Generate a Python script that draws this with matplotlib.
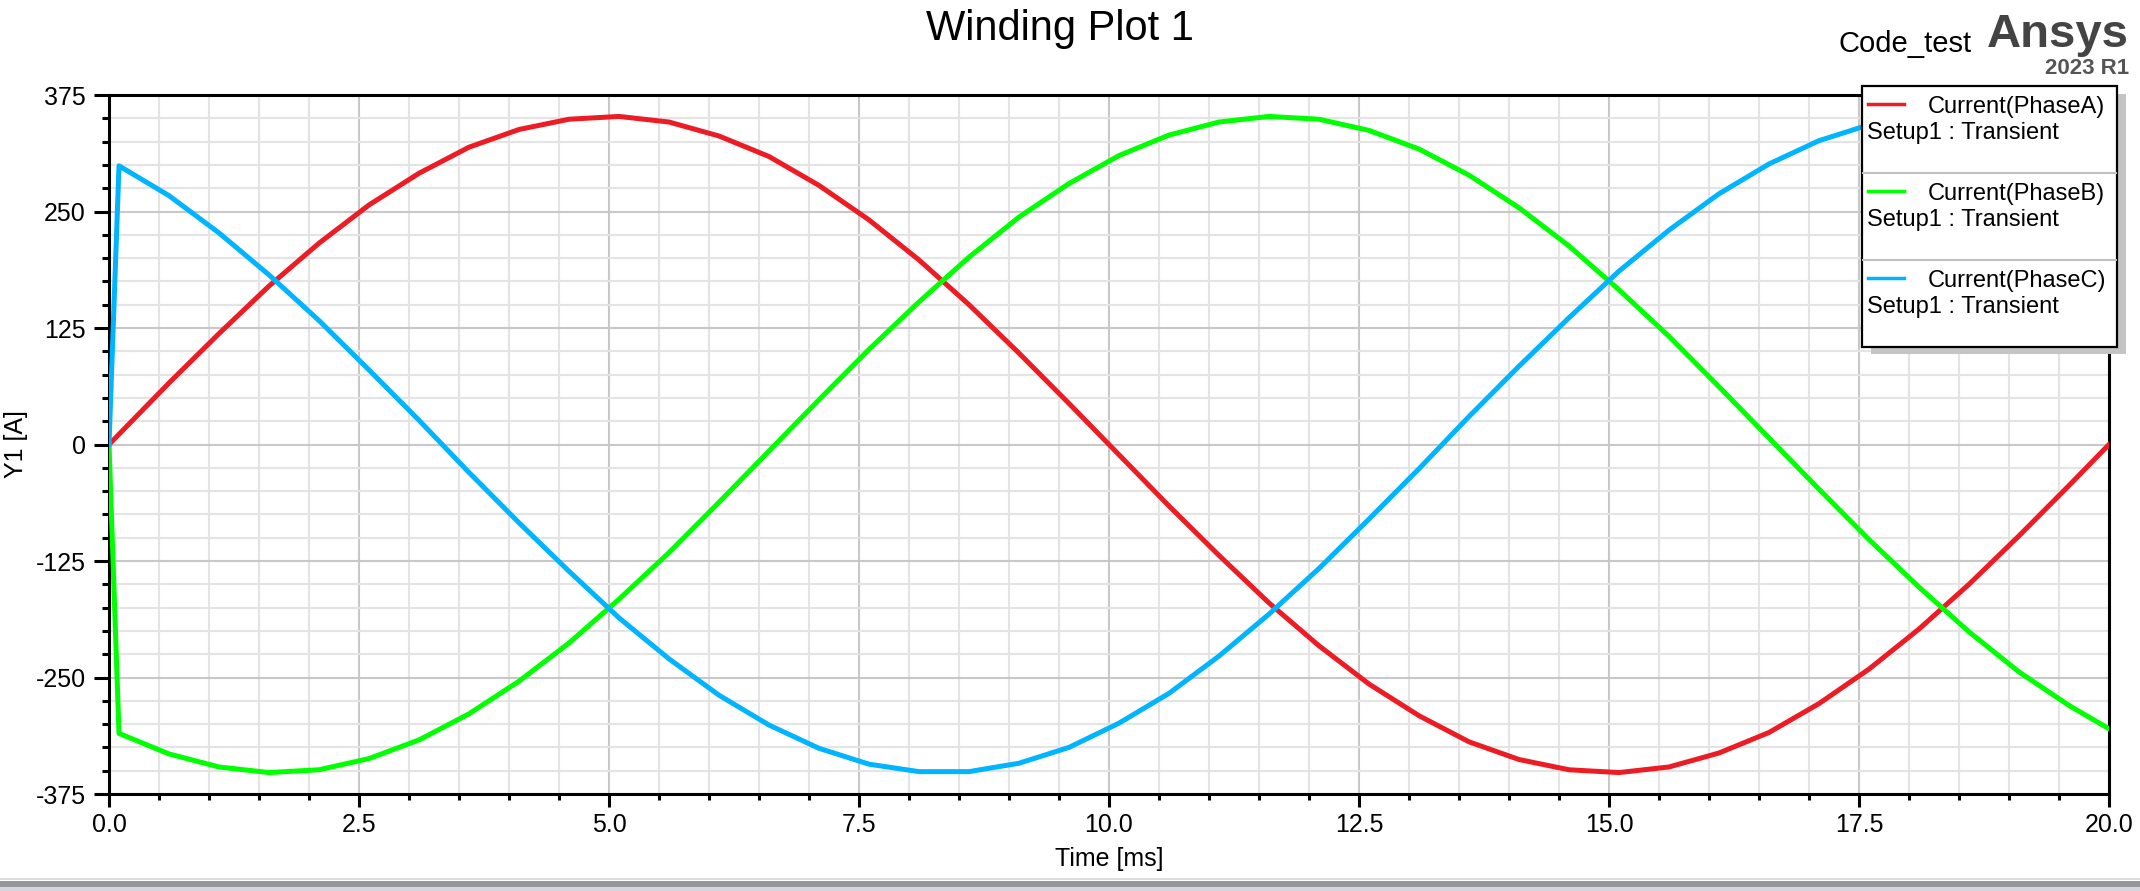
import matplotlib
matplotlib.use("Agg")
import matplotlib.pyplot as plt
from matplotlib.patches import Rectangle
from matplotlib.lines import Line2D
from matplotlib.ticker import MultipleLocator, FuncFormatter

plt.rcParams['font.family'] = ['Liberation Sans', 'DejaVu Sans']
plt.rcParams['axes.unicode_minus'] = False

# ---------------- data ----------------
time_ms = [0.0, 0.1, 0.6, 1.1, 1.6, 2.1, 2.6, 3.1, 3.6, 4.1, 4.6, 5.1, 5.6, 6.1,
           6.6, 7.1, 7.6, 8.1, 8.6, 9.1, 9.6, 10.1, 10.6, 11.1, 11.6, 12.1,
           12.6, 13.1, 13.6, 14.1, 14.6, 15.1, 15.6, 16.1, 16.6, 17.1, 17.6,
           18.1, 18.6, 19.1, 19.6, 20.0]
phase_a = [0, 11, 66, 119, 170, 216, 257, 291, 319, 338, 349, 352, 346, 331,
           309, 278, 241, 198, 150, 98, 44, -11, -66, -119, -170, -216, -257,
           -291, -319, -338, -349, -352, -346, -331, -309, -278, -241, -198,
           -150, -98, -44, 0]
phase_b = [0, -310, -332, -346, -352, -349, -337, -317, -289, -254, -213, -166,
           -116, -62, -7, 48, 102, 153, 201, 244, 280, 310, 332, 346, 352, 349,
           337, 317, 289, 254, 213, 166, 116, 62, 7, -48, -102, -153, -201,
           -244, -280, -305]
phase_c = [0, 299, 267, 227, 182, 133, 80, 26, -30, -84, -136, -186, -230,
           -269, -301, -326, -343, -351, -351, -342, -325, -299, -267, -227,
           -182, -133, -80, -26, 30, 84, 136, 186, 230, 269, 301, 326, 343,
           351, 351, 342, 325, 305]
series_names = ["Current(PhaseA)", "Current(PhaseB)", "Current(PhaseC)"]
setup_label = "Setup1 : Transient"
series_colors = ["#ED1C24", "#00FF00", "#00B4FF"]

# ---------------- figure ----------------
W, H = 2140, 891
fig = plt.figure(figsize=(W / 100, H / 100), dpi=100)


def fx(x):
    return x / W


def fy(y):
    return 1 - y / H


def rect(x0, y0, x1, y1, **kw):
    r = Rectangle((fx(x0), fy(y1)), (x1 - x0) / W, (y1 - y0) / H,
                  transform=fig.transFigure, **kw)
    fig.add_artist(r)
    return r


ax = fig.add_axes([fx(109), fy(794), (2109 - 109) / W, (794 - 95) / H])

for vals, col in zip([phase_a, phase_b, phase_c], series_colors):
    ax.plot(time_ms, vals, color=col, lw=3.6, solid_joinstyle='round',
            zorder=3)

ax.set_xlim(0, 20)
ax.set_ylim(-375, 375)
ax.xaxis.set_major_locator(MultipleLocator(2.5))
ax.xaxis.set_minor_locator(MultipleLocator(0.5))
ax.yaxis.set_major_locator(MultipleLocator(125))
ax.yaxis.set_minor_locator(MultipleLocator(25))
ax.xaxis.set_major_formatter(FuncFormatter(lambda v, p: f"{v:.1f}"))
ax.yaxis.set_major_formatter(FuncFormatter(lambda v, p: f"{int(round(v))}"))

ax.grid(which='major', color='#c8c8c8', lw=1.5)
ax.grid(which='minor', color='#e4e4e4', lw=1.5)
ax.set_axisbelow(True)

for s in ax.spines.values():
    s.set_linewidth(2.2)
    s.set_color('black')

ax.tick_params(axis='y', which='major', direction='out', length=10.8,
               width=2.2, labelsize=18, pad=6, right=False)
ax.tick_params(axis='y', which='minor', direction='out', length=5,
               width=2.2, right=False)
ax.tick_params(axis='x', which='major', direction='out', length=9.4,
               width=2.2, labelsize=18, pad=4, top=False)
ax.tick_params(axis='x', which='minor', direction='out', length=4.3,
               width=2.2, top=False)

# axis labels
fig.text(fx(1109), fy(866), "Time [ms]", fontsize=18, ha='center',
         va='baseline')
fig.text(fx(16), fy(444), "Y1 [A]", fontsize=18, ha='center', va='center',
         rotation=90)

# title and branding
fig.text(fx(1060), fy(40), "Winding Plot 1", fontsize=30, ha='center',
         va='baseline')
fig.text(fx(1972), fy(52), "Code_test", fontsize=21, ha='right',
         va='baseline')
fig.text(fx(2129), fy(47), "Ansys", fontsize=34, fontweight='bold',
         color='#444444', ha='right', va='baseline')
fig.text(fx(2129), fy(74), "2023 R1", fontsize=16, fontweight='bold',
         color='#555555', ha='right', va='baseline')

# legend box
rect(1871, 94, 2126, 354, facecolor='#c4c4c4', edgecolor='none', zorder=5)
rect(1862, 86, 2117, 347, facecolor='white', edgecolor='black', lw=1.6,
     zorder=6)
for yd in (173, 260):
    fig.add_artist(Line2D([fx(1863), fx(2116)], [fy(yd), fy(yd)],
                          transform=fig.transFigure, color='#c0c0c0', lw=1.5,
                          zorder=7))
for i, (name, col) in enumerate(zip(series_names, series_colors)):
    dy = 87 * i
    fig.add_artist(Line2D([fx(1868), fx(1904)], [fy(104 + dy), fy(104 + dy)],
                          transform=fig.transFigure, color=col, lw=2.5,
                          zorder=8))
    fig.text(fx(1928), fy(113 + dy), name, fontsize=17, ha='left',
             va='baseline', zorder=8)
    fig.text(fx(1867), fy(139 + dy), setup_label, fontsize=17, ha='left',
             va='baseline', zorder=8)

# bottom status strip
rect(0, 878, W, 880, facecolor='#dcdcdc', edgecolor='none', zorder=5)
rect(0, 881, W, 887, facecolor='#94979c', edgecolor='none', zorder=5)
rect(0, 887, W, 891, facecolor='#d3d6da', edgecolor='none', zorder=5)

fig.savefig("out.png", dpi=100)
